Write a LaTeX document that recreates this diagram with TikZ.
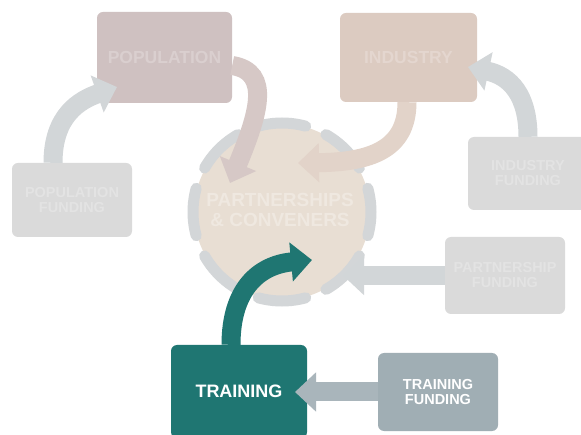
\documentclass[tikz,border=0pt]{standalone}
\usepackage{fontspec}
\setmainfont{Liberation Sans}
\usetikzlibrary{arrows.meta,calc}
\definecolor{popbox}{HTML}{CFC1C1}
\definecolor{popline}{HTML}{D6C8C6}
\definecolor{indbox}{HTML}{DCCBC1}
\definecolor{indline}{HTML}{E2D3C9}
\definecolor{fundbox}{HTML}{DADADA}
\definecolor{fundline}{HTML}{D2D6D8}
\definecolor{ringcol}{HTML}{D3D6D8}
\definecolor{circfill}{HTML}{E8DED3}
\definecolor{teal}{HTML}{1F7672}
\definecolor{trfundbox}{HTML}{A0AEB4}
\definecolor{trfundline}{HTML}{A9B5BB}
\begin{document}
\begin{tikzpicture}[x=1pt,y=-1pt,
  box/.style={rounded corners=6pt, inner sep=0pt, align=center, font=\bfseries},
  bigtxt/.style={font=\bfseries\fontsize{17.5}{20}\selectfont},
  smalltxt/.style={font=\bfseries\fontsize{14.5}{15}\selectfont},
  fat/.style={line width=19pt, -{Triangle[length=21pt,width=38pt]}},
  ring/.style={draw=ringcol, line width=11pt, line cap=round, dash pattern=on 48pt off 21.9pt, dash phase=24pt}]
\useasboundingbox (0,0) rectangle (581,435);
\fill[white] (0,0) rectangle (581,435);

% boxes
\node[box, fill=popbox, minimum width=135pt, minimum height=91pt, text=white!22!popbox, bigtxt] (pop) at (164.5,57.5) {POPULATION};
\node[box, fill=indbox, minimum width=137pt, minimum height=89pt, text=white!22!indbox, bigtxt] (indu) at (408.5,57.5) {INDUSTRY};
\node[box, fill=fundbox, minimum width=120pt, minimum height=74pt, text=white!25!fundbox, smalltxt] (popfund) at (72,200) {POPULATION\\FUNDING};
\node[box, fill=fundbox, minimum width=120pt, minimum height=73pt, text=white!25!fundbox, smalltxt] (indfund) at (528,173.5) {INDUSTRY\\FUNDING};
\node[box, fill=fundbox, minimum width=120pt, minimum height=77pt, text=white!25!fundbox, smalltxt] (partfund) at (505,275.5) {PARTNERSHIP\\FUNDING};
\node[box, fill=teal, minimum width=136pt, minimum height=93pt, text=white, font=\bfseries\fontsize{18}{20}\selectfont] (train) at (239,391.5) {TRAINING};
\node[box, fill=trfundbox, minimum width=120pt, minimum height=78pt, text=white, smalltxt] (trfund) at (438,392) {TRAINING\\FUNDING};

% central circle
\coordinate (cc) at (282,212);
\fill[circfill] (cc) circle (88);
\draw[ring] (cc) circle (89);
\node[text=white!30!circfill, font=\bfseries\fontsize{19}{20}\selectfont, align=center] (part) at (280,210) {PARTNERSHIPS\\\&\ CONVENERS};

% arrow end points
\coordinate (tipPop) at (117,87);
\coordinate (tipPopC) at (230,183);
\coordinate (tipIndC) at (298,163);
\coordinate (tipInd) at (468,67);
\coordinate (tipPart) at (343,275.5);
\coordinate (tipTrain) at (312,260);
\coordinate (tipTrF) at (295,392);

% arrows
\draw[fat, fundline] ($(popfund.north)+(-19,0)$) .. controls (53,115) and (80,100) .. (tipPop);
\draw[fat, popline] ($(pop.east)+(0,8)$) .. controls (272,72) and (258,115) .. (tipPopC);
\draw[fat, indline] ($(indu.south)+(-1.5,0)$) .. controls (407,150) and (370,162) .. (tipIndC);
\draw[fat, fundline] (indfund.north) .. controls (528,95) and (510,76) .. (tipInd);
\draw[fat, fundline] (partfund.west) -- (tipPart);
\draw[fat, teal] ($(train.north)+(-8,0)$) .. controls (231,290) and (258,265) .. (tipTrain);
\draw[fat, trfundline] (trfund.west) -- (tipTrF);
\end{tikzpicture}
\end{document}
